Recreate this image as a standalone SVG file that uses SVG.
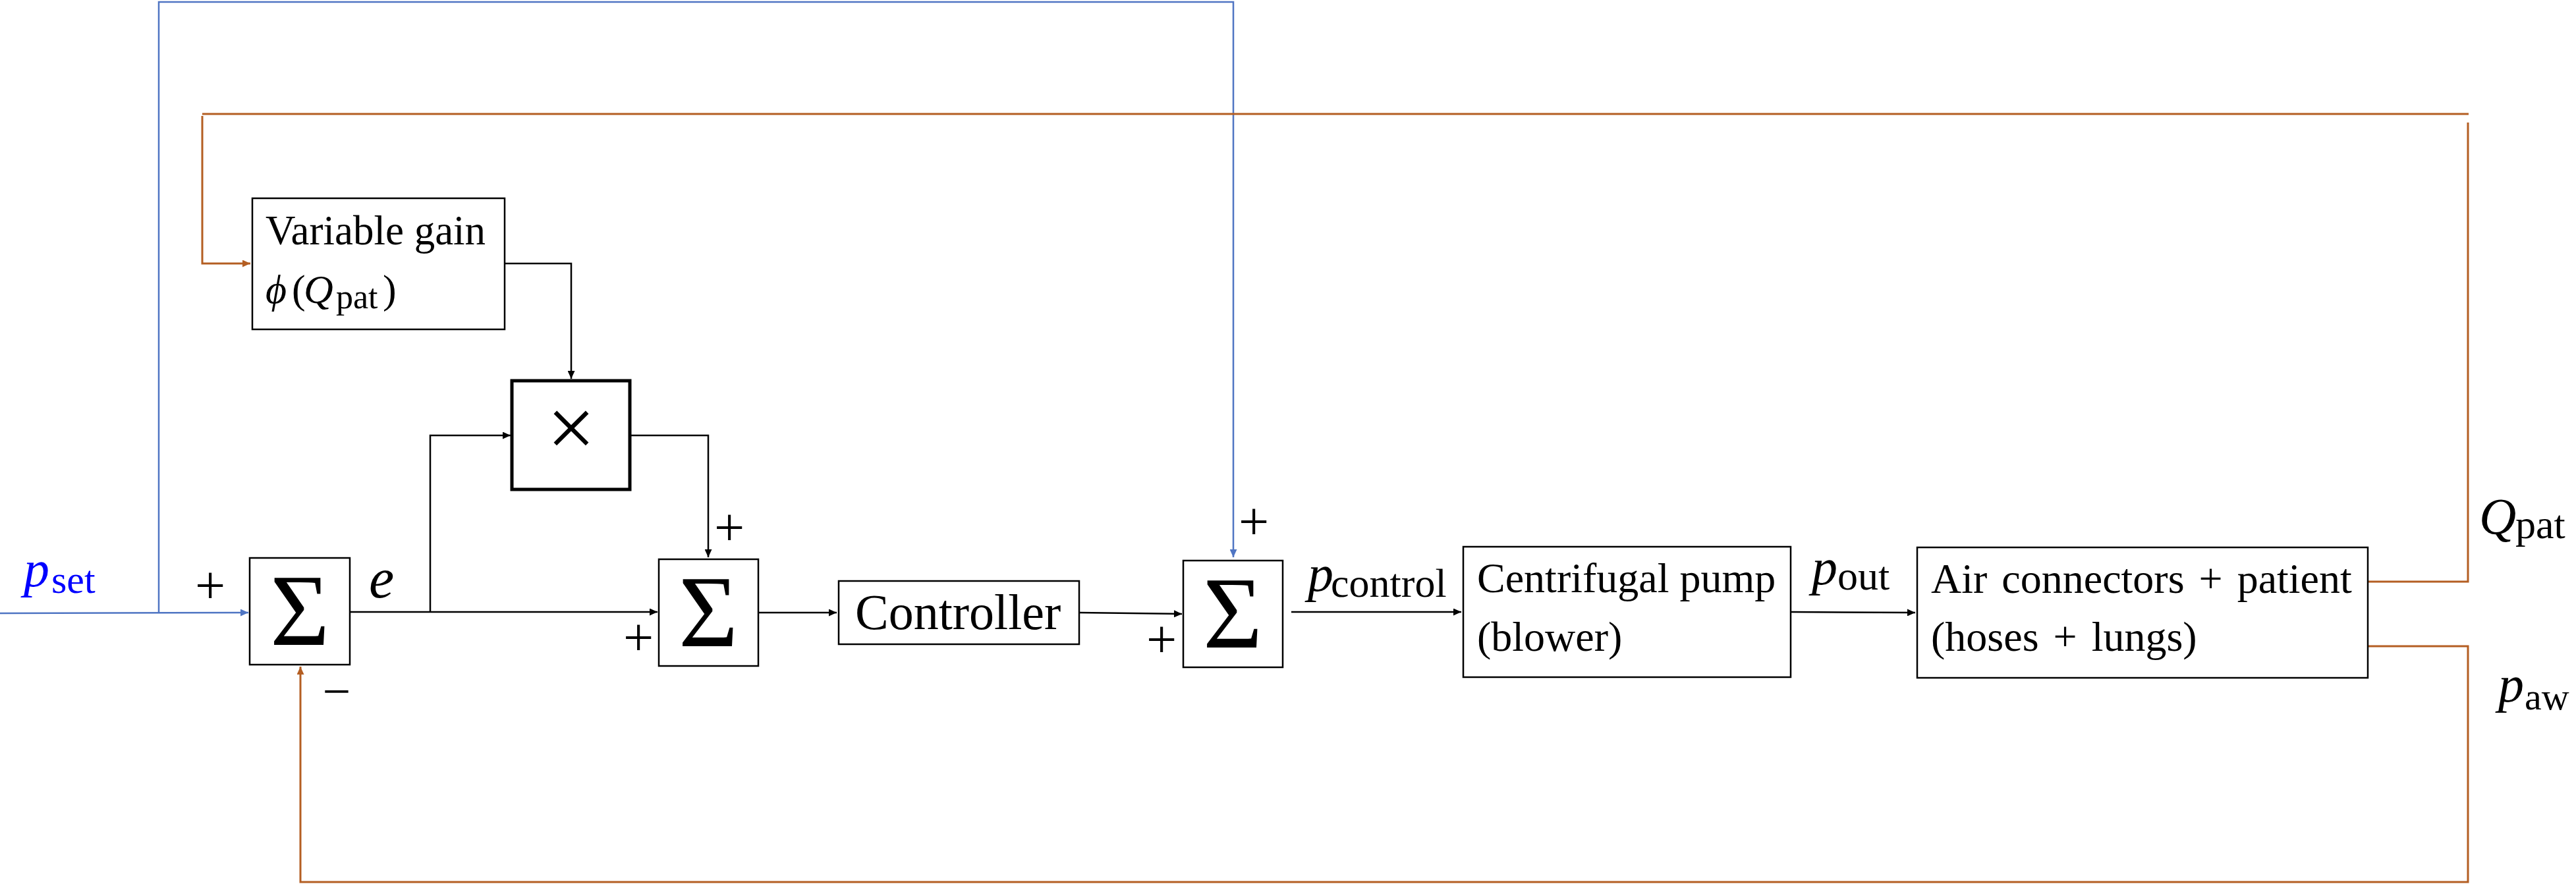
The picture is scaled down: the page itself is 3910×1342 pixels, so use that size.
<svg xmlns="http://www.w3.org/2000/svg" width="3910" height="1342" viewBox="0 0 3910 1342">
<style>
  .box { fill: #ffffff; stroke: #000000; stroke-width: 2.5; }
  .thick { fill: #ffffff; stroke: #000000; stroke-width: 5; }
  .t { font-family: "Liberation Serif", "DejaVu Serif", serif; fill: #000000; }
  .it { font-style: italic; }
  .blk { fill: none; stroke: #000000; stroke-width: 2.5; }
  .blu { fill: none; stroke: #4F75C3; stroke-width: 2.5; }
  .org { fill: none; stroke: #B45E22; stroke-width: 3; }
</style>
<defs>
  <marker id="ab" markerUnits="userSpaceOnUse" markerWidth="12" markerHeight="11" refX="12" refY="5.5" orient="auto">
    <path d="M0,0 L12,5.5 L0,11 z" fill="#000000"/>
  </marker>
  <marker id="au" markerUnits="userSpaceOnUse" markerWidth="12" markerHeight="11" refX="12" refY="5.5" orient="auto">
    <path d="M0,0 L12,5.5 L0,11 z" fill="#4F75C3"/>
  </marker>
  <marker id="ao" markerUnits="userSpaceOnUse" markerWidth="12" markerHeight="11" refX="12" refY="5.5" orient="auto">
    <path d="M0,0 L12,5.5 L0,11 z" fill="#B45E22"/>
  </marker>
</defs>
<rect width="3910" height="1342" fill="#ffffff"/>

<g id="connectors">
  <path class="blk" d="M531,929 L998,929" marker-end="url(#ab)"/>
  <path class="blk" d="M653,929 L653,661 L775,661" marker-end="url(#ab)"/>
  <path class="blk" d="M766,400 L867,400 L867,575" marker-end="url(#ab)"/>
  <path class="blk" d="M956,661 L1075,661 L1075,846" marker-end="url(#ab)"/>
  <path class="blk" d="M1151,930 L1270,930" marker-end="url(#ab)"/>
  <path class="blk" d="M1638,930 L1794,932" marker-end="url(#ab)"/>
  <path class="blk" d="M1960,929 L2218,929" marker-end="url(#ab)"/>
  <path class="blk" d="M2718,929 L2907,930" marker-end="url(#ab)"/>
  <path class="blu" d="M0,931 L377,930" marker-end="url(#au)"/>
  <path class="blu" d="M241,930 L241,3 L1872,3 L1872,846" marker-end="url(#au)"/>
  <path class="org" d="M3594,883 L3746,883 L3746,186"/>
  <path class="org" d="M3747,173 L307,173"/>
  <path class="org" d="M307,176 L307,400 L380,400" marker-end="url(#ao)"/>
  <path class="org" d="M3594,981 L3746,981 L3746,1339 L456,1339 L456,1012" marker-end="url(#ao)"/>
</g>

<g id="sum1">
  <rect class="box" x="379" y="847" width="152" height="162"/>
  <text class="t" x="455" y="979" font-size="155" text-anchor="middle">Σ</text>
</g>
<g id="variable-gain">
  <rect class="box" x="383" y="301" width="383" height="199"/>
  <text class="t" x="403" y="371" font-size="63">Variable gain</text>
  <text class="t" y="460" font-size="62"><tspan class="it" x="403">ϕ</tspan><tspan x="443">(</tspan><tspan class="it" x="461">Q</tspan><tspan x="510" y="468" font-size="52">pat</tspan><tspan x="581" y="460">)</tspan></text>
</g>
<g id="multiplier">
  <rect class="thick" x="777" y="578" width="179" height="165"/>
  <text class="t" x="867" y="693" font-size="130" text-anchor="middle">×</text>
</g>
<g id="sum2">
  <rect class="box" x="1000" y="849" width="151" height="162"/>
  <text class="t" x="1075" y="981" font-size="155" text-anchor="middle">Σ</text>
</g>
<g id="controller">
  <rect class="box" x="1273" y="882" width="365" height="96"/>
  <text class="t" x="1298" y="955" font-size="76">Controller</text>
</g>
<g id="sum3">
  <rect class="box" x="1796" y="851" width="151" height="162"/>
  <text class="t" x="1871" y="983" font-size="155" text-anchor="middle">Σ</text>
</g>
<g id="pump">
  <rect class="box" x="2221" y="830" width="497" height="198"/>
  <text class="t" x="2242" y="899" font-size="64">Centrifugal pump</text>
  <text class="t" x="2242" y="988" font-size="64">(blower)</text>
</g>
<g id="patient">
  <rect class="box" x="2910" y="831" width="684" height="198"/>
  <text class="t" x="2931" y="900" font-size="64" word-spacing="6">Air connectors + patient</text>
  <text class="t" x="2931" y="988" font-size="64" word-spacing="6">(hoses + lungs)</text>
</g>

<g id="labels">
  <text class="t" y="890" font-size="78" style="fill:#0000FF"><tspan class="it" x="36">p</tspan><tspan x="78" y="900" font-size="60">set</tspan></text>
  <text class="t it" x="560" y="907" font-size="86">e</text>
  <text class="t" y="897" font-size="78"><tspan class="it" x="1985">p</tspan><tspan x="2020" y="906" font-size="62">control</tspan></text>
  <text class="t" y="887" font-size="78"><tspan class="it" x="2750">p</tspan><tspan x="2789" y="895" font-size="62">out</tspan></text>
  <text class="t" y="810" font-size="78"><tspan class="it" x="3763">Q</tspan><tspan x="3818" y="817" font-size="62">pat</tspan></text>
  <text class="t" y="1065" font-size="78"><tspan class="it" x="3792">p</tspan><tspan x="3832" y="1077" font-size="58">aw</tspan></text>
  <text class="t" x="319" y="916" font-size="82" text-anchor="middle">+</text>
  <text class="t" x="511" y="1075" font-size="76" text-anchor="middle">−</text>
  <text class="t" x="1107" y="828" font-size="82" text-anchor="middle">+</text>
  <text class="t" x="969" y="995" font-size="82" text-anchor="middle">+</text>
  <text class="t" x="1903" y="819" font-size="82" text-anchor="middle">+</text>
  <text class="t" x="1763" y="998" font-size="82" text-anchor="middle">+</text>
</g>
</svg>
